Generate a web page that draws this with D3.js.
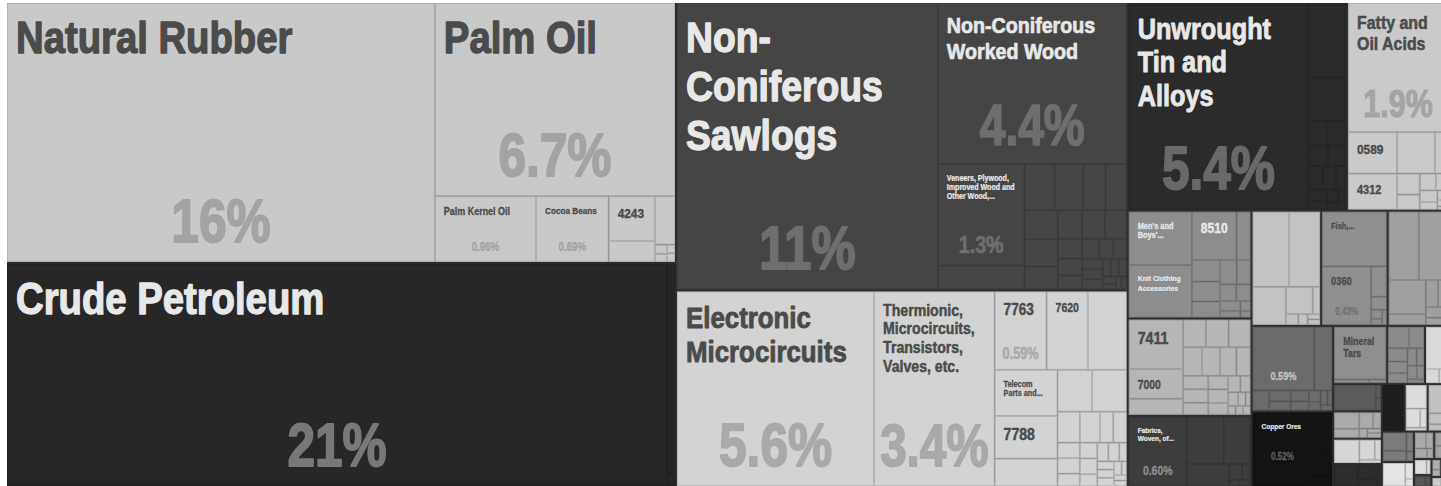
<!DOCTYPE html>
<html>
<head>
<meta charset="utf-8">
<script src="https://cdn.jsdelivr.net/npm/d3@7"></script>
<style>
html, body { margin: 0; padding: 0; background: #ffffff; overflow: hidden; }
svg { display: block; }
</style>
</head>
<body>
<svg id="chart" width="1441" height="486"></svg>
<script>
// ---------------- DATA (shares of total exports, %) ----------------
const groupNames = [
  "Rubber & Palm Oil", "Crude Petroleum", "Wood", "Electronics", "Tin", "Fatty Acids",
  "Clothing", "7411 / 7000", "Fabrics", "Group R4", "Fish", "Group R6", "Group R7",
  "Copper Ores", "Mineral Tars", "Group R9", "Group R10", "Group R11", "Group R12",
  "Group R13", "Group R14", "Group R15", "Group R16", "Group R17", "Group R18",
  "Group R20", "Group R21", "Group R19", "Group R22", "Group R23", "Group R24",
  "Group R25", "Group R26", "Group R27"
];

const itemNames = [
  ["Natural Rubber", "Palm Oil", "Palm Kernel Oil", "Cocoa Beans", "4243"],
  ["Crude Petroleum"],
  ["Non-Coniferous Sawlogs", "Non-Coniferous Worked Wood", "Veneers, Plywood, Improved Wood and Other Wood,..."],
  ["Electronic Microcircuits", "Thermionic, Microcircuits, Transistors, Valves, etc.", "7763", "7620", "", "Telecom Parts and...", "7788"],
  ["Unwrought Tin and Alloys"],
  ["Fatty and Oil Acids", "0589", "4312"],
  ["Men's and Boys'...", "Knit Clothing Accessories", "8510"],
  ["7411", "7000"],
  ["Fabrics, Woven, of..."],
  [],
  ["Fish,...", "0360"],
  [],
  [],
  ["Copper Ores"],
  ["Mineral Tars"],
  [], [], [], [], [], [], [], [], [], [], [], [], [], [], [], [], [], [], []
];

const itemValues = [
  [16.0, 6.7, 0.96, 0.69, 0.30, 0.14, 0.14, 0.016, 0.014, 0.01, 0.01],
  [21.2, 0.19, 0.03, 0.02, 0.015],
  [10.8, 4.4, 1.27, 0.30, 0.20, 0.19, 0.15, 0.14, 0.14, 0.13, 0.11, 0.10, 0.095, 0.09, 0.07, 0.06, 0.05, 0.05, 0.04, 0.04, 0.03, 0.03, 0.03, 0.02, 0.02, 0.02, 0.015, 0.01, 0.01, 0.01],
  [5.56, 3.4, 0.59, 0.47, 0.44, 0.42, 0.39, 0.25, 0.21, 0.21, 0.10, 0.09, 0.06, 0.06, 0.05, 0.05, 0.04, 0.04, 0.04, 0.03, 0.03, 0.03, 0.02, 0.02, 0.02, 0.02, 0.015, 0.01, 0.01, 0.01],
  [5.4, 0.41, 0.24, 0.07, 0.065, 0.06, 0.055, 0.05, 0.045, 0.035, 0.03, 0.025, 0.02, 0.015, 0.01, 0.01],
  [1.9, 0.30, 0.26, 0.23, 0.08, 0.07, 0.05, 0.04, 0.03, 0.03, 0.02, 0.015, 0.01, 0.005],
  [0.50, 0.49, 0.32, 0.10, 0.09, 0.083, 0.067, 0.06, 0.05, 0.04, 0.035, 0.03, 0.02, 0.015, 0.01],
  [0.40, 0.24, 0.13, 0.093, 0.093, 0.09, 0.08, 0.076, 0.07, 0.06, 0.05, 0.05, 0.045, 0.04, 0.04, 0.035, 0.03, 0.025, 0.02, 0.015, 0.01, 0.01, 0.01, 0.01],
  [0.60, 0.26, 0.19, 0.14, 0.03, 0.02, 0.01, 0.01],
  [0.41, 0.35, 0.19, 0.11, 0.03, 0.02, 0.015, 0.01, 0.01],
  [0.53, 0.43, 0.07, 0.03, 0.015, 0.01, 0.01],
  [0.31, 0.30, 0.19, 0.06, 0.05, 0.04, 0.03, 0.02, 0.01],
  [0.59, 0.17, 0.05, 0.035, 0.03, 0.03, 0.025, 0.02, 0.015, 0.015, 0.01, 0.01],
  [0.52, 0.14, 0.13, 0.06, 0.02, 0.01],
  [0.42, 0.02, 0.01],
  [0.07, 0.05, 0.04, 0.035, 0.03, 0.025, 0.02, 0.02, 0.015, 0.01],
  [0.15, 0.03, 0.02],
  [0.17, 0.01, 0.01],
  [0.066, 0.036, 0.036, 0.02, 0.012, 0.01, 0.01],
  [0.095, 0.05, 0.02, 0.011],
  [0.08, 0.045, 0.02, 0.015],
  [0.09, 0.03, 0.015, 0.01, 0.01],
  [0.08, 0.045, 0.02, 0.01],
  [0.09, 0.035, 0.02],
  [0.07, 0.04, 0.02, 0.01],
  [0.085, 0.02, 0.009],
  [0.03, 0.02, 0.02, 0.01],
  [0.03, 0.02, 0.008],
  [0.03, 0.01],
  [0.02, 0.01],
  [0.015, 0.01],
  [0.02],
  [0.015],
  [0.01]
];

// ---------------- STYLES ----------------
const groupFill = [
  "#c9c9c9", "#272727", "#454545", "#d3d3d3", "#2b2b2b", "#cacaca",
  "#8d8d8d", "#b6b6b6", "#3d3d3d", "#c3c3c3", "#8f8f8f", "#a0a0a0", "#6b6b6b",
  "#131313", "#8e8e8e", "#8b8b8b", "#d9d9d9", "#5c5c5c", "#ababab",
  "#d6d6d6", "#2d2d2d", "#1f1f1f", "#dcdcdc", "#c2c2c2", "#7c7c7c",
  "#e4e4e4", "#a9a9a9", "#a3a3a3", "#dedede", "#555555", "#b0b0b0",
  "#222222", "#cccccc", "#888888"
];
const groupInkLight = [
  false, true, true, false, true, false,
  true, false, true, false, false, false, true,
  true, false, false, false, true, false,
  false, true, true, false, false, true,
  false, false, false, false, true, false,
  true, false, true
];
// how far the share label colour moves from the fill towards the ink
const groupShareMix = [
  0.30, 0.42, 0.25, 0.31, 0.33, 0.30,
  0.35, 0.32, 0.46, 0.32, 0.44, 0.32, 0.70,
  0.36, 0.32, 0.32, 0.32, 0.32, 0.32,
  0.32, 0.32, 0.32, 0.32, 0.32, 0.32,
  0.32, 0.32, 0.32, 0.32, 0.32, 0.32,
  0.32, 0.32, 0.32
];
const INK_DARK = "#4b4b4b", INK_LIGHT = "#e8e8e8";
const TK = 0.87, SK = 0.8;          // horizontal compression of label fonts
const FONT = '"Liberation Sans", Arial, sans-serif';
const SMAX = 44, SMIN = 7.5;

// ---------------- LAYOUT ----------------
const svg = d3.select("#chart");
const box = { x0: 7, y0: 3, x1: 1448, y1: 486 };

const rootData = {
  name: "root",
  children: groupNames.map((g, gi) => ({
    name: g,
    children: itemValues[gi].map((v, j) => ({ name: itemNames[gi][j] || "", value: v, gi }))
  }))
};

const root = d3.hierarchy(rootData)
  .sum(d => d.value || 0)
  .sort((a, b) => b.value - a.value);

d3.treemap()
  .tile(d3.treemapSquarify)
  .size([box.x1 - box.x0, box.y1 - box.y0])
  .paddingInner(d => d.depth === 0 ? 2 : 0)(root);

const total = root.value;
const fmt = d3.format(".2r");

const g = svg.append("g").attr("transform", `translate(${box.x0},${box.y0})`);
g.append("rect")
  .attr("x", 0).attr("y", 0)
  .attr("width", box.x1 - box.x0).attr("height", box.y1 - box.y0)
  .attr("fill", "#2e2e2e");

const leaves = root.leaves();

g.selectAll("rect.leaf").data(leaves).join("rect")
  .attr("class", "leaf")
  .attr("x", d => d.x0 + 0.5).attr("y", d => d.y0 + 0.5)
  .attr("width", d => Math.max(0, d.x1 - d.x0 - 1))
  .attr("height", d => Math.max(0, d.y1 - d.y0 - 1))
  .attr("fill", d => groupFill[d.data.gi])
  .attr("stroke", d => d3.color(groupFill[d.data.gi]).darker(0.35))
  .attr("stroke-width", 1);

// ---------------- LABELS ----------------
const ctx = document.createElement("canvas").getContext("2d");
function tw(text, size) {
  ctx.font = `bold ${size}px ${FONT}`;
  return ctx.measureText(text).width;
}
function pieces(text) {
  const out = [];
  text.split(" ").forEach((w, wi) => {
    w.split(/(?<=-)/).forEach((p, pi) => out.push({ t: p, sep: pi === 0 ? (wi === 0 ? "" : " ") : "" }));
  });
  return out;
}
function wrap(text, size, maxW) {
  const lines = [];
  let cur = "";
  for (const p of pieces(text)) {
    const cand = cur === "" ? p.t : cur + p.sep + p.t;
    if (tw(cand, size) * TK <= maxW) cur = cand;
    else {
      if (cur === "" || tw(p.t, size) * TK > maxW) return null;
      lines.push(cur);
      cur = p.t;
    }
  }
  if (cur) lines.push(cur);
  return lines;
}
// area based font sizing (in the manner of d3plus text wrapping)
function fitTitle(name, w, h, hasShare) {
  const lw = w - 18;
  if (lw < 8) return null;
  const H = hasShare ? Math.max(8, 0.5 * h - 17) : 0.45 * h;
  const widths = pieces(name).map(p => tw(p.t, SMAX) * TK);
  const maxW = d3.max(widths);
  const am = 1.165 + lw / H * 0.11;
  const textArea = d3.sum(widths) * SMAX * 1.2 * am;
  const boxArea = lw * H;
  let ratio = 1;
  if (maxW > lw || textArea > boxArea) ratio = Math.min(Math.sqrt(boxArea / textArea), lw / maxW);
  let s = Math.max(SMIN, SMAX * ratio);
  if (/\.\.\.$/.test(name)) s = Math.min(s, 8.5);
  const limitH = hasShare ? 0.6 * h : h - 6;
  for (; s >= 5; s -= 0.25) {
    const lines = wrap(name, s, w - 16);
    if (lines && 9 + 0.93 * s + (lines.length - 1) * 1.15 * s + 0.25 * s <= limitH) return { s, lines };
  }
  return null;
}
function fitShare(txt, w, h) {
  if (w < 45 || h < 57) return null;
  const perPx = tw(txt, 100) / 100 * SK;
  return Math.min(62, 0.0021 * h * h + 3, 0.9 * w / perPx);
}

leaves.forEach(d => {
  const w = d.x1 - d.x0, h = d.y1 - d.y0;
  const gi = d.data.gi;
  const fill = groupFill[gi];
  const ink = groupInkLight[gi] ? INK_LIGHT : INK_DARK;
  const shareInk = d3.interpolateRgb(fill, ink)(groupShareMix[gi]);
  const shareTxt = fmt(d.value / total * 100) + "%";
  const ss = fitShare(shareTxt, w, h);
  if (d.data.name) {
    const t = fitTitle(d.data.name, w, h, !!ss);
    if (t) {
      t.lines.forEach((line, li) => {
        g.append("text")
          .attr("transform", `translate(${d.x0 + 9},${d.y0 + 9 + 0.93 * t.s + li * 1.15 * t.s}) scale(${TK},1)`)
          .attr("font-family", FONT).attr("font-weight", "bold")
          .attr("font-size", t.s).attr("fill", ink)
          .attr("stroke", ink).attr("stroke-width", 0.03 * t.s).attr("stroke-linejoin", "round")
          .text(line);
      });
    }
  }
  if (ss) {
    g.append("text")
      .attr("transform", `translate(${(d.x0 + d.x1) / 2},${d.y1 - (8 + 0.2 * ss)}) scale(${SK},1)`)
      .attr("text-anchor", "middle")
      .attr("font-family", FONT).attr("font-weight", "bold")
      .attr("font-size", ss).attr("fill", shareInk)
      .attr("stroke", shareInk).attr("stroke-width", 0.03 * ss).attr("stroke-linejoin", "round")
      .text(shareTxt);
  }
});
</script>
</body>
</html>
